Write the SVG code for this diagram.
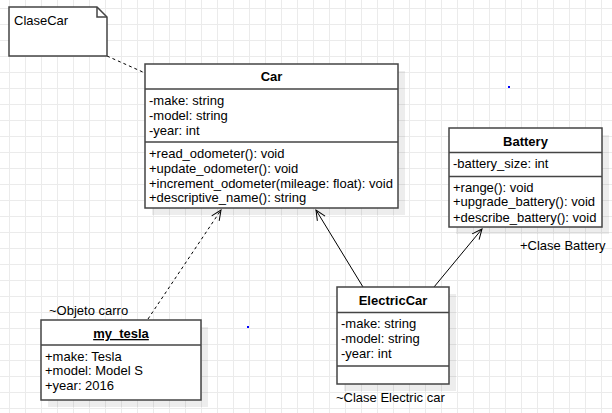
<svg xmlns="http://www.w3.org/2000/svg" width="612" height="413" viewBox="0 0 612 413">
<style>
text{font-family:"Liberation Sans",Arial,sans-serif;font-size:13px;fill:#000}
.t{font-weight:bold;text-anchor:middle}
.box{fill:#fff;stroke:#444;stroke-width:1.5}
.sep{stroke:#444;stroke-width:1.5}
.sh{fill:#000;opacity:0.07}
.ln{fill:none;stroke:#000;stroke-width:1}
.dash{stroke-dasharray:3 3}
</style>
<defs>
<pattern id="grid" patternUnits="userSpaceOnUse" x="9" y="8" width="16" height="16">
<path d="M0.5 0V16M0 0.5H16" stroke="#ebebeb" stroke-width="1" fill="none"/>
</pattern>
<marker id="open" markerUnits="userSpaceOnUse" markerWidth="14" markerHeight="14" viewBox="0 0 14 14" refX="12" refY="7" orient="auto">
<path d="M2 2.5L12 7L2 11.5" fill="none" stroke="#000" stroke-width="1"/>
</marker>
</defs>
<rect width="612" height="413" fill="#fff"/>
<rect width="612" height="413" fill="url(#grid)"/>
<rect x="508" y="86" width="2" height="2" fill="#0000ff"/>
<rect x="247" y="326" width="2" height="2" fill="#0000ff"/>

<g id="connectors">
<path class="ln dash" d="M107 56L145 73"/>
<path class="ln dash" d="M148 319L221 210" marker-end="url(#open)"/>
<path class="ln" d="M363 287L316 210" marker-end="url(#open)"/>
<path class="ln" d="M434 287L482 229" marker-end="url(#open)"/>
</g>

<g id="note-clasecar">
<path d="M9 7H97L107 17V56H9Z" fill="#fff" stroke="#444" stroke-width="1.5"/>
<path d="M97 7V17H107" fill="none" stroke="#444" stroke-width="1.5"/>
<text x="14" y="25">ClaseCar</text>
</g>

<g id="car">
<rect class="sh" x="152" y="71" width="253" height="144"/>
<rect class="box" x="145" y="64" width="253" height="144"/>
<line class="sep" x1="145" y1="89" x2="398" y2="89"/>
<line class="sep" x1="145" y1="142" x2="398" y2="142"/>
<text class="t" x="271.5" y="81">Car</text>
<text x="149" y="104.5">-make: string</text>
<text x="149" y="119.5">-model: string</text>
<text x="149" y="134.5">-year: int</text>
<text x="149" y="157.5">+read_odometer(): void</text>
<text x="149" y="172.5">+update_odometer(): void</text>
<text x="149" y="187.5">+increment_odometer(mileage: float): void</text>
<text x="149" y="202">+descriptive_name(): string</text>
</g>

<g id="battery">
<rect class="sh" x="456" y="135" width="153" height="99"/>
<rect class="box" x="449" y="128" width="153" height="99"/>
<line class="sep" x1="449" y1="152.5" x2="602" y2="152.5"/>
<line class="sep" x1="449" y1="176.5" x2="602" y2="176.5"/>
<text class="t" x="525.5" y="145.5">Battery</text>
<text x="453" y="168">-battery_size: int</text>
<text x="453" y="191.5">+range(): void</text>
<text x="453" y="206">+upgrade_battery(): void</text>
<text x="453" y="221.5">+describe_battery(): void</text>
<text x="520" y="249.5">+Clase Battery</text>
</g>

<g id="electriccar">
<rect class="sh" x="344" y="294" width="112" height="97"/>
<rect class="box" x="337" y="287" width="112" height="97"/>
<line class="sep" x1="337" y1="312.5" x2="449" y2="312.5"/>
<line class="sep" x1="337" y1="366" x2="449" y2="366"/>
<text class="t" x="393" y="305">ElectricCar</text>
<text x="341" y="328">-make: string</text>
<text x="341" y="343">-model: string</text>
<text x="341" y="358">-year: int</text>
<text x="336" y="401.5">~Clase Electric car</text>
</g>

<g id="my_tesla">
<rect class="sh" x="48" y="327" width="160" height="80"/>
<rect class="box" x="41" y="320" width="160" height="80"/>
<line class="sep" x1="41" y1="345" x2="201" y2="345"/>
<text class="t" x="121" y="338" text-decoration="underline">my_tesla</text>
<text x="45" y="360.5">+make: Tesla</text>
<text x="45" y="375">+model: Model S</text>
<text x="45" y="390">+year: 2016</text>
<text x="49" y="314.5">~Objeto carro</text>
</g>
</svg>
